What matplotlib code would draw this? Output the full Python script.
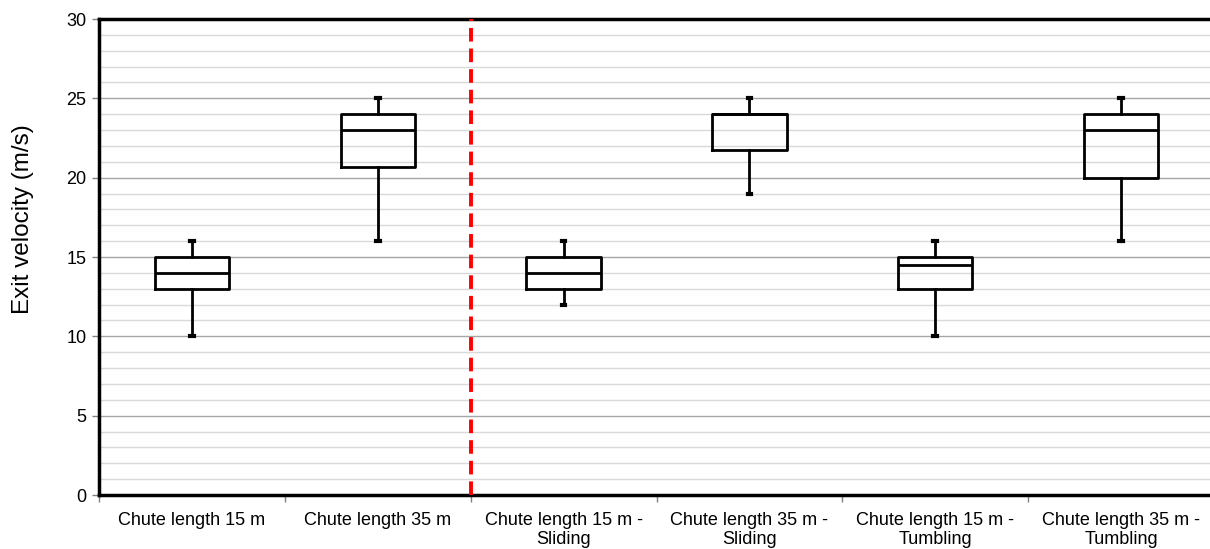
import numpy as np
import matplotlib.pyplot as plt
from matplotlib.ticker import MultipleLocator, FixedLocator

plt.rcParams['font.family'] = ['Liberation Sans', 'DejaVu Sans']

labels = ["Chute length 15 m", "Chute length 35 m",
          "Chute length 15 m -\nSliding", "Chute length 35 m -\nSliding",
          "Chute length 15 m -\nTumbling", "Chute length 35 m -\nTumbling"]
whislo = [10, 16, 12, 19, 10, 16]
q1 = [13, 20.7, 13, 21.75, 13, 20]
med = [14, 23, 14, 24, 14.5, 23]
q3 = [15, 24, 15, 24, 15, 24]
whishi = [16, 25, 16, 25, 16, 25]

stats = []
for i in range(len(labels)):
    stats.append(dict(whislo=whislo[i], q1=q1[i], med=med[i], q3=q3[i],
                      whishi=whishi[i], fliers=[]))

fig = plt.figure(figsize=(12.1, 5.49), dpi=100)
ax = fig.add_axes([99/1210, 1-495/549, 1115/1210, 476/549])

pos = np.arange(len(labels))
lw = 2.0
ax.bxp(stats, positions=pos, widths=0.4, capwidths=0.02, showfliers=False,
       boxprops=dict(color='black', linewidth=lw),
       medianprops=dict(color='black', linewidth=lw),
       whiskerprops=dict(color='black', linewidth=lw),
       capprops=dict(color='black', linewidth=3), zorder=3)

ax.axvline(1.5, color='red', linewidth=2.8, linestyle=(0, (3.5, 1.8)), zorder=4)

ax.set_xlim(-0.5, len(labels) - 0.5)
ax.set_ylim(0, 30)
ax.yaxis.set_major_locator(MultipleLocator(5))
ax.yaxis.set_minor_locator(MultipleLocator(1))
ax.grid(which='major', axis='y', color='#a6a6a6', linewidth=1.0, zorder=0)
ax.grid(which='minor', axis='y', color='#d9d9d9', linewidth=1.0, zorder=0)
ax.set_axisbelow(True)

ax.set_xticks(pos)
ax.set_xticklabels(labels, fontsize=13)
ax.xaxis.set_minor_locator(FixedLocator(np.arange(-0.5, len(labels), 1)))
ax.tick_params(axis='x', which='major', length=0, pad=12)
ax.tick_params(axis='x', which='minor', length=5, width=1, color='#808080', direction='out')
ax.tick_params(axis='y', which='major', length=5, width=1, color='#808080', labelsize=13, pad=4)
ax.tick_params(axis='y', which='minor', length=0)

ax.set_ylabel("Exit velocity (m/s)", fontsize=17.5)
ax.yaxis.set_label_coords(-0.058, 0.58)

for s in ['left', 'bottom', 'top']:
    ax.spines[s].set_linewidth(2.5)
    ax.spines[s].set_color('black')
ax.spines['right'].set_visible(False)

fig.savefig("out.png", dpi=100)
